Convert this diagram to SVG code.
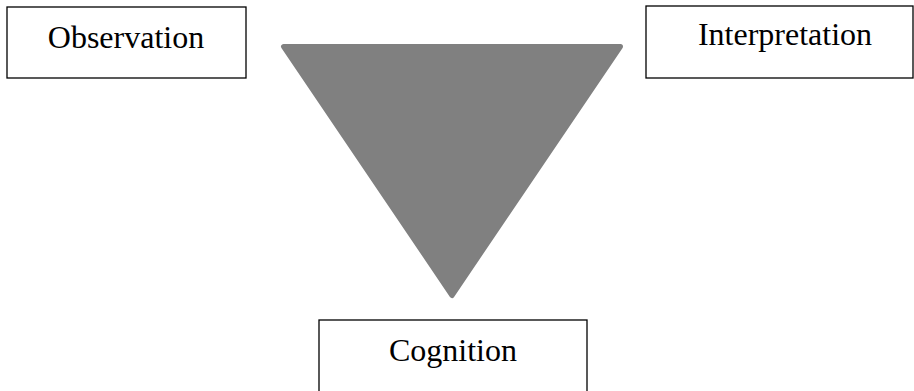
<svg xmlns="http://www.w3.org/2000/svg" width="914" height="391" viewBox="0 0 914 391">
<style>
.box{fill:#fff;stroke:#000;stroke-width:1.3}
.lbl{font-family:"Liberation Serif","Times New Roman",serif;font-size:32px;fill:#000;text-anchor:middle}
.tri{fill:#808080;stroke:#808080;stroke-width:5;stroke-linejoin:round}
</style>
<rect width="914" height="391" fill="#fff"/>
<g id="triangle">
<polygon class="tri" points="283.5,46.5 620.5,46.5 452,295.5"/>
</g>
<g id="observation">
<rect class="box" x="7" y="7" width="239" height="71"/>
<text class="lbl" x="126" y="48">Observation</text>
</g>
<g id="interpretation">
<rect class="box" x="646" y="6" width="267" height="72"/>
<text class="lbl" x="785" y="45">Interpretation</text>
</g>
<g id="cognition">
<rect class="box" x="319" y="320" width="268" height="80"/>
<text class="lbl" x="453" y="361">Cognition</text>
</g>
<g id="connectors"></g>
</svg>
